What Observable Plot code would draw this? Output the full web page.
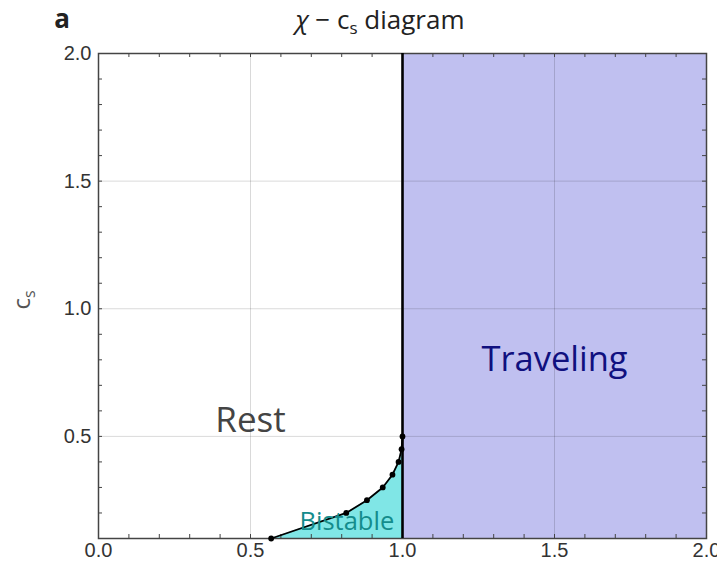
<!DOCTYPE html>
<html><head><meta charset="utf-8">
<script src="https://cdn.jsdelivr.net/npm/d3@7"></script>
<script src="https://cdn.jsdelivr.net/npm/@observablehq/plot@0.6"></script>
<style>body{margin:0;background:#fff}</style>
</head><body><div id="chart"></div>
<script>
// Bistable boundary curve (chi, c_s)
const curveChi = [0.568, 0.815, 0.883, 0.935, 0.967, 0.987, 0.997, 1.0];
const curveCs  = [0.10, 0.20, 0.25, 0.30, 0.35, 0.40, 0.45, 0.50];
// Traveling region bounds
const travelChi = [1.0, 2.0];
const travelCs = [0.1, 2.0];
// Region labels
const regionNames = ["Rest", "Traveling", "Bistable"];
const regionChi = [0.50, 1.50, 0.817];
const regionCs = [0.56, 0.80, 0.165];
// Ticks
const xTicks = [0, 0.5, 1, 1.5, 2];
const yTicks = [0.5, 1, 1.5, 2];
const gridValues = [0.5, 1, 1.5];
const minorX = [0,0.1,0.2,0.3,0.4,0.5,0.6,0.7,0.8,0.9,1,1.1,1.2,1.3,1.4,1.5,1.6,1.7,1.8,1.9,2];
const minorY = [0.1,0.2,0.3,0.4,0.5,0.6,0.7,0.8,0.9,1,1.1,1.2,1.3,1.4,1.5,1.6,1.7,1.8,1.9,2];

const curve = curveChi.map((x, i) => ({x, y: curveCs[i]}));
const travel = [{x1: travelChi[0], x2: travelChi[1], y1: travelCs[0], y2: travelCs[1]}];
const labels = regionNames.map((n, i) => ({n, x: regionChi[i], y: regionCs[i]}));

const W = 717, H = 569, mT = 53, mB = 31, mL = 98, mR = 11;
const fh = H - mT - mB, fw = W - mL - mR, tl = 4;

const plot = Plot.plot({
  width: W, height: H,
  marginTop: mT, marginBottom: mB, marginLeft: mL, marginRight: mR,
  style: {fontFamily: "'Liberation Sans', Arial, sans-serif", fontSize: "20px", color: "#333", background: "#fff", overflow: "visible"},
  x: {domain: [0, 2]},
  y: {domain: [0.1, 2]},
  marks: [
    Plot.rect(travel, {x1: "x1", x2: "x2", y1: "y1", y2: "y2", fill: "#c0c0f0"}),
    Plot.areaY(curve, {x: "x", y1: 0.1, y2: "y", fill: "#80e6e6"}),
    Plot.ruleX(gridValues, {stroke: "#000", strokeOpacity: 0.15}),
    Plot.ruleY(gridValues, {stroke: "#000", strokeOpacity: 0.15}),
    Plot.ruleX(minorX, {insetTop: fh - tl, stroke: "#444"}),
    Plot.ruleX(minorX, {insetBottom: fh - tl, stroke: "#444"}),
    Plot.ruleY(minorY, {insetRight: fw - tl, stroke: "#444"}),
    Plot.ruleY(minorY, {insetLeft: fw - tl, stroke: "#444"}),
    Plot.frame({stroke: "#444", strokeWidth: 1.5}),
    Plot.ruleX([1], {stroke: "#000", strokeWidth: 2.6}),
    Plot.line(curve, {x: "x", y: "y", stroke: "#000", strokeWidth: 1.8}),
    Plot.dot(curve, {x: "x", y: "y", r: 2.9, fill: "#000"}),
    Plot.text(labels.filter(d => d.n === "Rest"), {x: "x", y: "y", text: "n", fontSize: 35, fill: "#444", fontFamily: "'Open Sans', sans-serif"}),
    Plot.text(labels.filter(d => d.n === "Traveling"), {x: "x", y: "y", text: "n", fontSize: 34.5, fill: "#10107f", fontFamily: "'Open Sans', sans-serif"}),
    Plot.text(labels.filter(d => d.n === "Bistable"), {x: "x", y: "y", text: "n", fontSize: 25.5, fill: "#148c8c", fontFamily: "'Open Sans', sans-serif"}),
    Plot.axisX(xTicks, {tickSize: 0, tickPadding: 4, tickFormat: d3.format(".1f"), label: null, fill: "#333"}),
    Plot.axisY(yTicks, {tickSize: 0, tickPadding: 7, tickFormat: d3.format(".1f"), label: null, fill: "#333"})
  ]
});

const svg = d3.select(plot);
const t = svg.append("text").attr("x", 380).attr("y", 29).attr("text-anchor", "middle")
  .style("font-family", "'Open Sans', sans-serif").style("font-size", "26px").attr("fill", "#222");
t.append("tspan").style("font-style", "italic").text("χ");
t.append("tspan").text(" − c");
t.append("tspan").style("font-size", "17px").attr("dy", 5).text("s");
t.append("tspan").attr("dy", -5).text(" diagram");
svg.append("text").attr("x", 62).attr("y", 28).style("font-family", "'Open Sans', sans-serif")
  .style("font-size", "26px").style("font-weight", "bold").attr("fill", "#222").text("a");
const yl = svg.append("text").attr("transform", "translate(30,300) rotate(-90)").attr("text-anchor", "middle")
  .style("font-family", "'Open Sans', sans-serif").style("font-size", "24px").attr("fill", "#555");
yl.append("tspan").text("c");
yl.append("tspan").style("font-size", "16px").attr("dy", 5).text("s");

document.getElementById("chart").appendChild(plot);
</script></body></html>
